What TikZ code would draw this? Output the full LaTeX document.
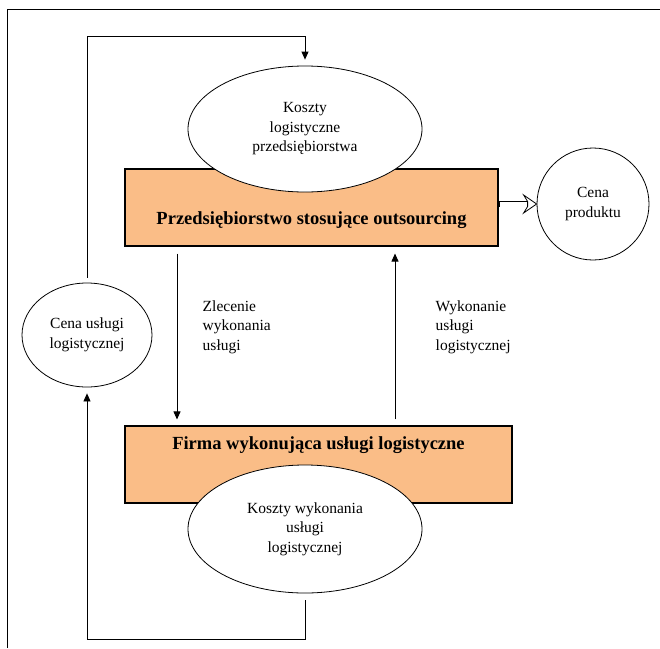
\documentclass[tikz,border=0pt]{standalone}
\usepackage{fontspec}
\setmainfont{Liberation Serif}
\usepackage{tikz}
\usetikzlibrary{arrows.meta, positioning, shapes.geometric}
\definecolor{pomarancz}{RGB}{250,189,135}

\begin{document}
\begin{tikzpicture}[x=1pt,y=-1pt,line width=0.8pt,>={Triangle[length=8pt,width=7pt]}]
  \tikzstyle{every node}=[font=\fontsize{15.5}{19.5}\selectfont]
  \tikzstyle{blok}=[draw,line width=1.1pt,fill=pomarancz,inner sep=0pt]
  \tikzstyle{owal}=[draw,ellipse,fill=white,inner sep=0pt,align=center]
  \tikzstyle{gruby}=[font=\fontsize{18.5}{22}\selectfont\bfseries]

  \useasboundingbox (0,0) rectangle (660,648);
  \draw (7,648) -- (7,9) -- (660,9);

  \coordinate (zl)   at (177,0);
  \coordinate (wy)   at (395,0);
  \coordinate (gora) at (87,36);
  \coordinate (dol)  at (87,639);

  \node[blok,minimum width=373,minimum height=77] (przeds) at (311.5,207.5) {};
  \node[gruby]                                     at (311.5,220)   {Przedsiębiorstwo stosujące outsourcing};
  \node[owal,minimum width=234,minimum height=126] (koszty) at (305,129) {Koszty\\logistyczne\\przedsiębiorstwa};
  \node[draw,circle,minimum size=112,inner sep=0pt,align=center] (cena) at (593,204) {Cena\\produktu};

  \node[blok,minimum width=387,minimum height=77] (firma) at (318.5,464.5) {};
  \node[gruby]                                    at (318.5,445)  {Firma wykonująca usługi logistyczne};
  \node[owal,minimum width=234,minimum height=128] (kosztyW) at (305,529) {Koszty wykonania\\usługi\\logistycznej};

  \node[owal,minimum width=130,minimum height=104] (cenaU) at (87,335) {Cena usługi\\logistycznej};

  \path[->]
  (przeds.south -| zl) edge [shorten <=7pt,shorten >=6pt]
      node [pos=0.45,right=22pt,align=left] {Zlecenie\\wykonania\\usługi} (firma.north -| zl)
  (firma.north -| wy) edge [shorten <=6pt,shorten >=7pt]
      node [pos=0.55,right=37pt,align=left] {Wykonanie\\usługi\\logistycznej} (przeds.south -| wy)
  (cenaU.north) edge [shorten <=5pt,shorten >=6pt,to path={-- (gora) -| (\tikztotarget)}] (koszty.north)
  (kosztyW.south) edge [shorten <=7pt,shorten >=6pt,to path={-- (\tikztostart |- dol) -| (\tikztotarget)}] (cenaU.south)
  ;
  % strzalka podwojna
  \draw[line width=6.6pt,shorten >=9pt] (przeds.east |- cena.center) -- (cena.west);
  \draw[line width=5pt,white,shorten >=8pt] ([xshift=1pt]przeds.east |- cena.center) -- (cena.west);
  \draw[line width=0.8pt,line join=miter,fill=white]
    ([xshift=-13pt,yshift=9pt]cena.west) -- (cena.west) -- ([xshift=-13pt,yshift=-9pt]cena.west)
    -- ([xshift=-9pt,yshift=-2.5pt]cena.west) -- ([xshift=-9pt,yshift=2.5pt]cena.west) -- cycle;
\end{tikzpicture}
\end{document}
